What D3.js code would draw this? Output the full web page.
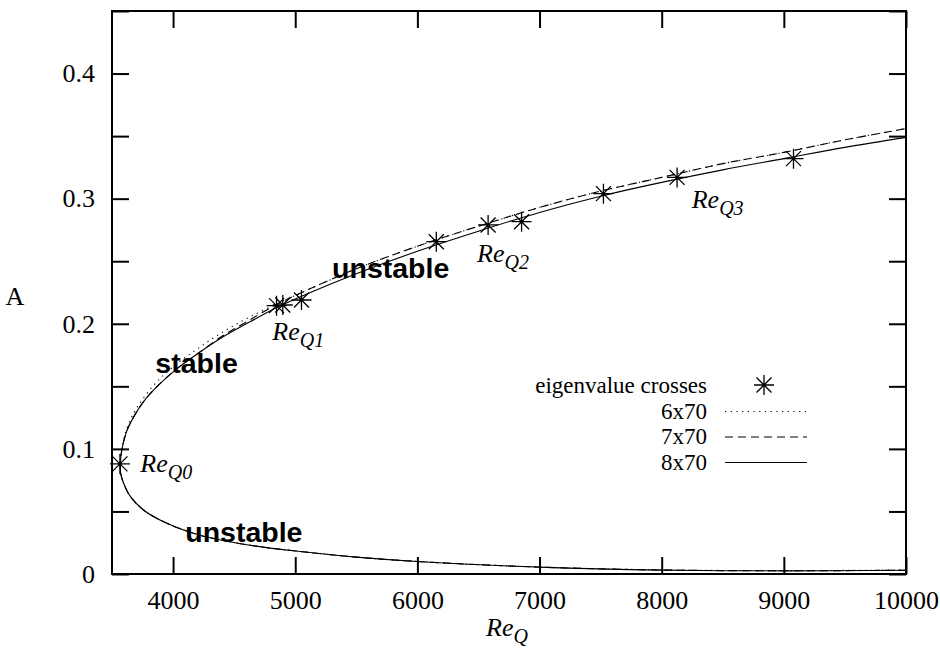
<!DOCTYPE html>
<html>
<head>
<meta charset="utf-8">
<script src="https://cdn.jsdelivr.net/npm/d3@7"></script>
<style>
  body { margin: 0; background: #fff; }
  svg { display: block; }
  text { font-family: "Liberation Serif", "Times New Roman", serif; fill: #000; }
  .tag { font-family: "Liberation Sans", Arial, sans-serif; font-weight: bold; }
</style>
</head>
<body>
<svg id="chart"></svg>
<script>
// eigenvalue crosses (Re_Q, A)
const starRe = [3565, 4847, 4898, 5051, 6155, 6579, 6853, 7523, 8126, 9079]
const starA = [0.088, 0.2145, 0.215, 0.219, 0.2656, 0.279, 0.2816, 0.304, 0.317, 0.332]

// upper branch
const upperRe = [3568, 3580, 3620, 3680, 3760, 3870, 4030, 4200, 4400, 4600, 4850, 5100, 5500, 6000, 6500, 7000, 7500, 8000, 8500, 9000, 9500, 10000]
const upper6 = [0.087, 0.100, 0.116, 0.129, 0.141, 0.154, 0.168, 0.180, 0.193, 0.204, 0.216, 0.227, 0.244, 0.262, 0.278, 0.293, 0.306, 0.317, 0.328, 0.337, 0.347, 0.356]
const upper7 = [0.087, 0.099, 0.114, 0.126, 0.138, 0.150, 0.164, 0.176, 0.190, 0.2015, 0.2155, 0.227, 0.244, 0.262, 0.278, 0.293, 0.306, 0.317, 0.328, 0.337, 0.347, 0.356]
const upper8 = [0.087, 0.099, 0.114, 0.126, 0.138, 0.150, 0.164, 0.176, 0.189, 0.200, 0.213, 0.224, 0.240, 0.258, 0.274, 0.289, 0.302, 0.313, 0.323, 0.332, 0.341, 0.349]

// lower branch
const lowerRe = [3568, 3572, 3595, 3650, 3760, 3950, 4220, 4630, 5040, 5500, 6000, 7000, 8000, 9000, 10000]
const lower6 = [0.087, 0.080, 0.0725, 0.062, 0.051, 0.0405, 0.031, 0.023, 0.018, 0.0135, 0.010, 0.0055, 0.0033, 0.0027, 0.0032]
const lower7 = [0.087, 0.080, 0.0725, 0.062, 0.051, 0.0405, 0.031, 0.023, 0.018, 0.0135, 0.010, 0.0055, 0.0032, 0.0026, 0.003]
const lower8 = [0.087, 0.080, 0.0725, 0.062, 0.051, 0.0405, 0.031, 0.023, 0.018, 0.0135, 0.010, 0.0055, 0.0031, 0.0025, 0.003]

const seriesNames = ['6x70', '7x70', '8x70']
const xTicks = [4000, 5000, 6000, 7000, 8000, 9000, 10000]
const yTicks = [0, 0.05, 0.1, 0.15, 0.2, 0.25, 0.3, 0.35, 0.4, 0.45]
const yLabels = [0, 0.1, 0.2, 0.3, 0.4]

const W = 940, H = 658
const margin = { left: 112, top: 11, right: 34, bottom: 84 }
const width = W - margin.left - margin.right
const height = H - margin.top - margin.bottom
const TICK = 17
const FS = 26

const svg = d3.select('#chart').attr('width', W).attr('height', H)

const x = d3.scaleLinear().domain([3500, 10000]).range([margin.left, margin.left + width])
const y = d3.scaleLinear().domain([0, 0.45]).range([margin.top + height, margin.top])

// join lower (reversed) and upper branch into one path
const branch = (lowA, upA) =>
    lowerRe.map((re, i) => [re, lowA[i]]).reverse()
        .concat(upperRe.slice(1).map((re, i) => [re, upA[i + 1]]))

const series = [
    { name: seriesNames[0], pts: branch(lower6, upper6), dash: '1.2,4.5' },
    { name: seriesNames[1], pts: branch(lower7, upper7), dash: '8,5' },
    { name: seriesNames[2], pts: branch(lower8, upper8), dash: null }
]

const line = d3.line()
    .x(d => x(d[0]))
    .y(d => y(d[1]))
    .curve(d3.curveCatmullRom.alpha(0.5))

svg.append('g')
    .selectAll('path')
    .data(series).enter().append('path')
    .attr('d', d => line(d.pts))
    .attr('fill', 'none')
    .attr('stroke', '#000')
    .attr('stroke-width', 1.1)
    .attr('stroke-dasharray', d => d.dash)

// star marker: + overlaid with x
const star = (g, h, k) => {
    g.append('path')
        .attr('d', `M${-h},0H${h}M0,${-h}V${h}M${-k},${-k}L${k},${k}M${-k},${k}L${k},${-k}`)
        .attr('stroke', '#000')
        .attr('stroke-width', 1.3)
        .attr('fill', 'none')
}

svg.append('g')
    .selectAll('g')
    .data(starRe).enter().append('g')
    .attr('transform', (d, i) => `translate(${x(d)},${y(starA[i])})`)
    .each(function () { star(d3.select(this), 10, 7.5) })

// axes, ticks pointing inward
const styleAxis = g => {
    g.select('.domain').remove()
    g.selectAll('line').attr('stroke', '#000').attr('stroke-width', 2)
    g.selectAll('text').attr('font-size', FS).attr('fill', '#000')
}

svg.append('g')
    .attr('transform', `translate(0,${margin.top + height})`)
    .call(d3.axisBottom(x).tickValues(xTicks).tickSize(-TICK).tickPadding(17).tickFormat(d3.format('d')))
    .call(styleAxis)

svg.append('g')
    .attr('transform', `translate(0,${margin.top})`)
    .call(d3.axisTop(x).tickValues(xTicks).tickSize(-TICK).tickFormat(''))
    .call(styleAxis)

svg.append('g')
    .attr('transform', `translate(${margin.left},0)`)
    .call(d3.axisLeft(y).tickValues(yTicks).tickSize(-TICK).tickPadding(17)
        .tickFormat(d => yLabels.includes(d) ? (d === 0 ? '0' : d.toFixed(1)) : ''))
    .call(styleAxis)

svg.append('g')
    .attr('transform', `translate(${margin.left + width},0)`)
    .call(d3.axisRight(y).tickValues(yTicks).tickSize(-TICK).tickFormat(''))
    .call(styleAxis)

svg.append('rect')
    .attr('x', margin.left).attr('y', margin.top)
    .attr('width', width).attr('height', height)
    .attr('fill', 'none').attr('stroke', '#000').attr('stroke-width', 2)

// axis titles
svg.append('text')
    .attr('x', 15).attr('y', 305)
    .attr('text-anchor', 'middle')
    .attr('font-size', FS)
    .text('A')

const reLabel = (px, py, sub) => {
    const t = svg.append('text')
        .attr('x', px).attr('y', py)
        .attr('font-size', 26)
        .attr('font-style', 'italic')
    t.append('tspan').text('Re')
    t.append('tspan').attr('font-size', 20).attr('dy', 7).text(sub)
    return t
}

reLabel(486, 636, 'Q')
reLabel(x(3732), y(0.0815), 'Q0')
reLabel(x(4812), y(0.187), 'Q1')
reLabel(x(6489), y(0.2492), 'Q2')
reLabel(x(8246), y(0.2924), 'Q3')

// stability tags
const tag = (px, py, s) => svg.append('text')
    .attr('class', 'tag')
    .attr('x', px).attr('y', py)
    .attr('font-size', 28.5)
    .text(s)

tag(x(3855), y(0.1606), 'stable')
tag(x(5302), y(0.2365), 'unstable')
tag(x(4100), y(0.0256), 'unstable')

// legend: rows are tight, so the font is a touch smaller than the ticks
const legend = svg.append('g')
const lx = 707, ly = 386, step = 25.5
const legendLabels = ['eigenvalue crosses'].concat(seriesNames)

legend.selectAll('text')
    .data(legendLabels).enter().append('text')
    .attr('text-anchor', 'end')
    .attr('font-size', 23)
    .attr('x', lx)
    .attr('y', (d, i) => ly + step * i + 7)
    .text(d => d)

star(legend.append('g').attr('transform', `translate(${lx + 57},${ly - 1})`), 10, 7.5)

series.forEach((s, i) => {
    const yy = ly + step * (i + 1)
    legend.append('line')
        .attr('x1', lx + 18).attr('x2', lx + 100)
        .attr('y1', yy).attr('y2', yy)
        .attr('stroke', '#000')
        .attr('stroke-width', 1)
        .attr('stroke-dasharray', s.dash)
})
</script>
</body>
</html>
